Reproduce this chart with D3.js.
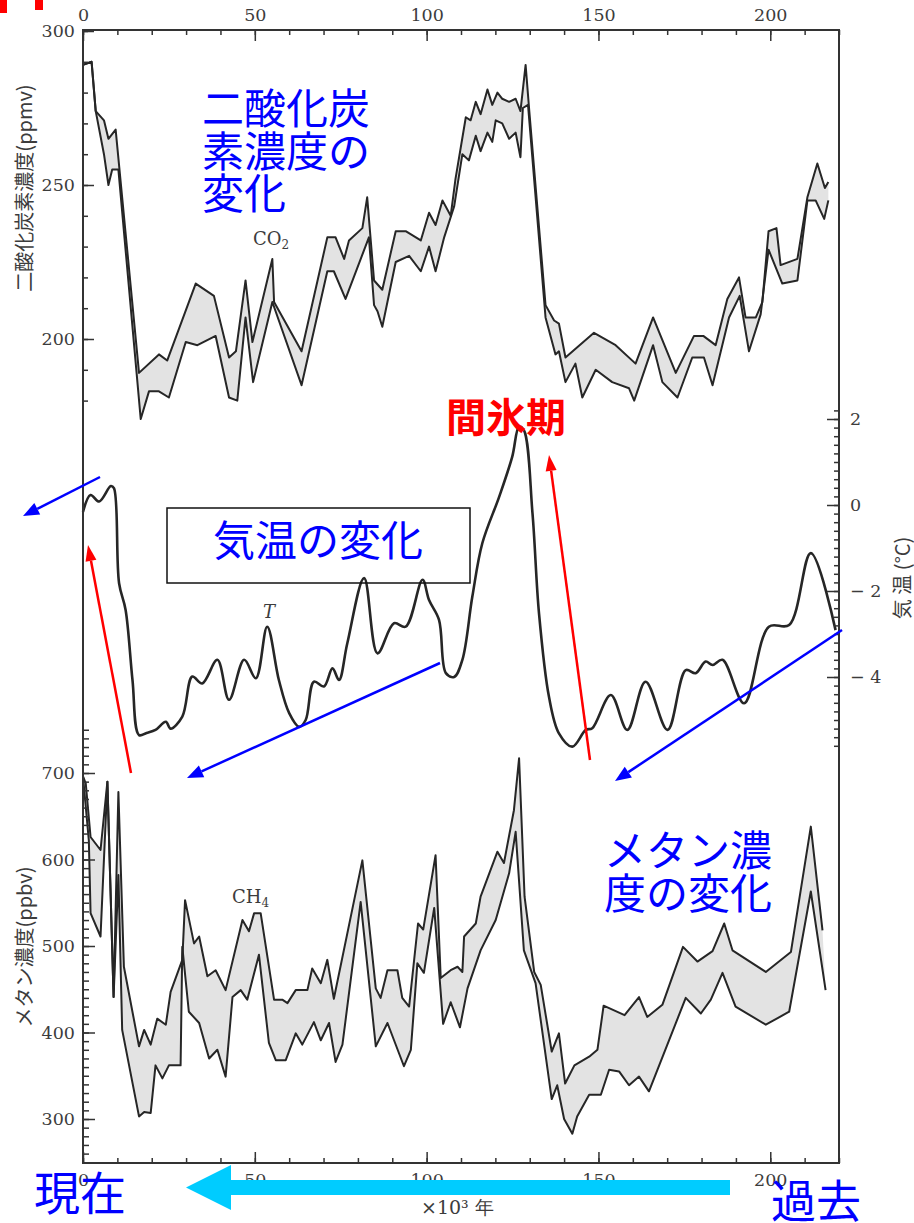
<!DOCTYPE html>
<html><head><meta charset="utf-8">
<script src="https://cdn.jsdelivr.net/npm/d3@7"></script>
<style>html,body{margin:0;padding:0;background:#fff}svg{display:block}</style>
</head><body>
<svg id="c" width="914" height="1223"></svg>
<script>
// ---------- data (kyr before present, value) ----------
const co2Upper = [[0,289],[2.5,290],[3.7,274],[6.1,271],[7.4,265],[9.5,268],[16.3,189],[22.1,195],[24.5,193],[32.8,218],[38.1,214],[42.5,194],[44.5,196],[47.3,219],[49.3,199],[55.1,226],[55.6,212],[63.6,196],[71.1,233],[73.5,233],[76,226],[77.4,232],[81.3,236],[82.7,246],[84.7,219],[87.1,216],[91,235],[93.9,235],[98.3,232],[100.7,241],[102.6,237],[104.6,245],[107,240],[108.4,252],[111.4,272],[112.8,271],[114.3,277],[115.7,273],[117.7,281],[119.1,276],[120.6,280],[122,278],[124,277],[125.9,278],[127.3,274],[128.8,289],[129.8,275],[134.6,211],[137.1,206],[138.5,205],[140.4,194],[148.7,202],[155,198],[160.8,192],[165.9,207],[172.5,189],[177.8,201],[180.5,201],[184.1,198],[187.5,213],[190.9,220],[192.8,207],[195.8,207],[197.7,212],[199.5,235],[201.8,236],[203,224],[207.9,226],[210.8,246],[213.7,257],[215.9,249],[216.9,251]];
const co2Lower = [[0,289],[2.5,290],[3.7,274],[6.1,260],[7.4,250],[8.5,255],[10.3,255],[16.8,174],[19.2,183],[22.1,183],[25,181],[29.9,199],[33.3,198],[38.6,201],[42.5,181],[44.9,180],[47.3,207],[49.5,186],[55.1,212],[63.6,185],[71.1,222],[73,222],[76.4,213],[83.2,233],[84.7,211],[85.7,209],[87.1,204],[91,225],[94.9,227],[98.3,222],[100.7,230],[102.6,222],[105.1,233],[108,243],[110.4,260],[112.3,258],[114.3,266],[115.7,261],[117.7,267],[119.1,264],[120.1,271],[122,270],[124,265],[125.9,267],[127.3,259],[128,275],[129.5,276],[134.6,207],[137.5,195],[138.5,196],[140.4,186],[143.3,192],[145.3,181],[149.2,190],[154,186],[158.9,184],[160.4,180],[165.9,198],[168.6,186],[173,181],[177.3,194],[180.7,194],[183.2,185],[188,207],[191.1,214],[193.8,196],[197.2,208],[199.5,229],[203.5,218],[207.9,219],[210.8,245],[213.2,245],[215.7,239],[216.9,245]];
const tempSeries = [[0,-0.16],[2.2,0.23],[4.7,0.08],[8.1,0.44],[9.0,0.39],[10.5,-1.82],[12.4,-2.44],[14.4,-4.07],[16.3,-5.35],[18.5,-5.3],[21.1,-5.23],[24.1,-5.04],[25.5,-5.2],[28.9,-4.92],[31.8,-3.99],[34.7,-4.15],[39.1,-3.6],[42.5,-4.53],[46.9,-3.6],[50.3,-4.03],[53.6,-2.83],[57,-4.07],[60,-4.84],[62.9,-5.16],[64.8,-5],[67.2,-4.11],[70.1,-4.22],[72.6,-3.8],[74.5,-4.07],[76.9,-3.22],[81.8,-1.7],[85.7,-3.45],[90.5,-2.75],[93.9,-2.83],[98.8,-1.74],[100.7,-2.21],[103.6,-2.67],[105.6,-3.91],[108,-4.0],[110.4,-3.6],[113.3,-2.13],[116.2,-0.89],[121.1,0.19],[124.9,1.12],[126.9,1.82],[128.3,1.74],[130.8,-0.19],[132.7,-2.52],[135.6,-4.46],[138.5,-5.31],[142.4,-5.62],[146.3,-5.23],[148.2,-5.19],[153.6,-4.42],[158.4,-5.23],[163.7,-4.11],[170.1,-5.23],[175.4,-3.84],[178.3,-3.91],[181.2,-3.64],[183.2,-3.72],[186.1,-3.6],[192.4,-4.61],[199.6,-2.83],[205.5,-2.79],[211.8,-1.12],[219,-2.91]];
const ch4Upper = [[0,696],[0.8,688],[2.2,626],[5.1,611],[7.1,690],[8.9,441],[10.3,678],[11.9,476],[16.3,384],[17.8,403],[19.7,386],[21.6,416],[24.1,409],[25.5,447],[28.9,484],[29.7,553],[32.3,503],[33.8,511],[36.2,465],[38.6,472],[41.5,449],[46.4,530],[48.3,517],[49.8,538],[51.7,538],[55.6,438],[58,438],[59.5,434],[61.9,449],[65.3,449],[66.7,474],[69.2,457],[71.1,484],[73,439],[81.3,599],[85.2,451],[86.6,440],[88.6,472],[91.5,472],[92.9,440],[94.9,430],[97.5,526],[99,519],[102.6,605],[104.1,463],[107,472],[109,476],[110.4,470],[110.9,511],[114.3,526],[115.7,557],[120.6,609],[122.5,596],[125.4,657],[126.9,717],[128.5,557],[131.3,470],[133.2,455],[136.4,378],[138.5,399],[140.3,341],[143,362],[147.3,372],[149.7,380],[151.5,431],[157.6,420],[161.8,441],[164.2,418],[168.6,432],[174.6,499],[178.8,482],[183.2,494],[186.6,526],[189,495],[198.7,470],[206,493],[211.8,638],[215.2,518]];
const ch4Lower = [[0,696],[1.7,622],[2.2,538],[5.1,511],[7.1,690],[8.9,441],[10.3,582],[11.4,403],[16.3,303],[17.8,308],[19.7,307],[21.1,362],[23.1,347],[25,362],[28.4,362],[28.9,499],[30.8,424],[33.8,411],[36.7,370],[39.1,380],[41.5,349],[43.5,441],[45.9,449],[47.8,438],[51.2,490],[54.1,388],[56.1,368],[59,368],[61.9,399],[63.8,386],[67.2,412],[69.2,391],[71.6,411],[73.5,366],[75.5,386],[80.8,551],[85.2,384],[88.6,411],[93.4,361],[95.4,380],[97.3,480],[99.2,469],[102.2,544],[104.8,410],[107,435],[109.7,406],[111.9,451],[115.7,495],[120.1,530],[124,584],[125.9,632],[128.3,495],[131.7,457],[136.4,323],[138,339],[140,300],[142.4,283],[143.8,303],[147.3,328],[150.7,328],[153.1,357],[156,355],[158.9,339],[161.8,349],[164.7,332],[175.4,440],[179.8,422],[182.7,438],[186.1,469],[189.9,430],[198.7,409],[205.5,424],[211.8,563],[216.1,449]];

// ---------- tick values ----------
const xMajorTicks = [0,50,100,150,200];
const xMinorTicks = d3.range(0,221,10);
const co2Ticks = [200,250,300];
const co2MinorTicks = d3.range(180,301,10);
const tempTicks = [-4,-2,0,2];
const tempMinorTicks = d3.range(-28,12).map(i=>+(i*0.2).toFixed(1));
const ch4Ticks = [300,400,500,600,700];
const ch4MinorTicks = d3.range(260,751,10);

// ---------- layout ----------
const L = {left:83, right:839, top:30, bottom:1163};
const svg = d3.select('#c');
const x = d3.scaleLinear().domain([0,220]).range([L.left,L.right]);
const yCO2 = d3.scaleLinear().domain([200,300]).range([339,31]);
const yT = d3.scaleLinear().domain([-4,2]).range([677,419]);
const yCH4 = d3.scaleLinear().domain([300,700]).range([1119,773]);

const serif = '"DejaVu Serif", "Liberation Serif", serif';
const jp = '"Noto Sans CJK JP", "Noto Sans", sans-serif';
const ink = '#262626', txt = '#3c3c3c';

svg.append('rect').attr('width',914).attr('height',1223).attr('fill','#fff');

// bands
function band(up, lo, ys){
  const ln = d3.line().x(d=>x(d[0])).y(d=>ys(d[1]));
  svg.append('path').attr('d', ln(up.concat(lo.slice().reverse()))+'Z')
     .attr('fill','#e3e3e3').attr('stroke','none');
  [up,lo].forEach(s=>svg.append('path').attr('d',ln(s)).attr('fill','none')
     .attr('stroke',ink).attr('stroke-width',2).attr('stroke-linejoin','round'));
}
band(co2Upper, co2Lower, yCO2);
band(ch4Upper, ch4Lower, yCH4);

// temperature
svg.append('path')
  .attr('d', d3.line().x(d=>x(d[0])).y(d=>yT(d[1])).curve(d3.curveCatmullRom.alpha(0.5))(tempSeries))
  .attr('fill','none').attr('stroke',ink).attr('stroke-width',2.6);

// frame
svg.append('rect').attr('x',L.left).attr('y',L.top).attr('width',L.right-L.left).attr('height',L.bottom-L.top)
  .attr('fill','none').attr('stroke','#333').attr('stroke-width',2);

function styleAxis(g){
  g.select('.domain').remove();
  g.selectAll('line').attr('stroke','#333').attr('stroke-width',1.5);
  g.selectAll('text').attr('fill',txt).style('font-family',serif).style('font-size','17.5px');
  return g;
}
// x axes
styleAxis(svg.append('g').attr('transform',`translate(0,${L.top})`).call(d3.axisTop(x).tickValues(xMinorTicks).tickSize(-5).tickFormat('')));
styleAxis(svg.append('g').attr('transform',`translate(0,${L.top})`).call(d3.axisTop(x).tickValues(xMajorTicks).tickSize(-11).tickPadding(9)));
styleAxis(svg.append('g').attr('transform',`translate(0,${L.bottom})`).call(d3.axisBottom(x).tickValues(xMinorTicks).tickSize(-5).tickFormat('')));
styleAxis(svg.append('g').attr('transform',`translate(0,${L.bottom})`).call(d3.axisBottom(x).tickValues(xMajorTicks).tickSize(-11).tickPadding(11)));
// left axes
styleAxis(svg.append('g').attr('transform',`translate(${L.left},0)`).call(d3.axisLeft(yCO2).tickValues(co2MinorTicks).tickSize(-5).tickFormat('')));
styleAxis(svg.append('g').attr('transform',`translate(${L.left},0)`).call(d3.axisLeft(yCO2).tickValues(co2Ticks).tickSize(-11).tickPadding(8).tickFormat(d3.format('d'))));
styleAxis(svg.append('g').attr('transform',`translate(${L.left},0)`).call(d3.axisLeft(yCH4).tickValues(ch4MinorTicks).tickSize(-6).tickFormat('')));
styleAxis(svg.append('g').attr('transform',`translate(${L.left},0)`).call(d3.axisLeft(yCH4).tickValues(ch4Ticks).tickSize(-12).tickPadding(8).tickFormat(d3.format('d'))));
// right temperature axis
styleAxis(svg.append('g').attr('transform',`translate(${L.right},0)`).call(d3.axisRight(yT).tickValues(tempMinorTicks).tickSize(-5).tickFormat('')));
styleAxis(svg.append('g').attr('transform',`translate(${L.right},0)`).call(d3.axisRight(yT).tickValues(tempTicks).tickSize(-12).tickPadding(11)
  .tickFormat(d=> d<0 ? '\u2212 '+(-d) : String(d))));

// axis titles
function rotText(t, cx, cy, size){
  svg.append('text').attr('transform',`translate(${cx},${cy}) rotate(-90)`).attr('text-anchor','middle')
    .attr('dominant-baseline','central').attr('fill',txt).style('font-family',jp).style('font-size',size+'px').text(t);
}
rotText('二酸化炭素濃度(ppmv)', 23, 188, 20);
rotText('メタン濃度(ppbv)', 23, 947, 20);
rotText('気 温 (°C)', 901, 578, 20);

svg.append('text').attr('x',421).attr('y',1214).attr('fill',txt).style('font-family',serif).style('font-size','19px').text('×10³ 年');

// series labels
const co2Lab = svg.append('text').attr('x',253).attr('y',245).attr('fill',txt).style('font-family',serif).style('font-size','18px');
co2Lab.append('tspan').text('CO');
co2Lab.append('tspan').attr('dy',4).style('font-size','12px').text('2');
const ch4Lab = svg.append('text').attr('x',232).attr('y',903).attr('fill',txt).style('font-family',serif).style('font-size','18px');
ch4Lab.append('tspan').text('CH');
ch4Lab.append('tspan').attr('dy',4).style('font-size','12px').text('4');
svg.append('text').attr('x',263).attr('y',618).attr('fill',txt).style('font-family',serif).style('font-style','italic').style('font-size','18px').text('T');

// ---------- annotations ----------
const blue = '#0000ff', red = '#ff0000', cyan = '#00ccff';
function jpBlock(lines, xx, yy, lh, size, color, bold){
  const t = svg.append('text').attr('fill',color).style('font-family',jp)
    .style('font-size',size+'px').style('font-weight',bold?'700':'400');
  lines.forEach((s,i)=>t.append('tspan').attr('x',xx).attr('y',yy+i*lh).text(s));
}
jpBlock(['二酸化炭','素濃度の','変化'], 202, 124, 42.5, 42, blue);
svg.append('rect').attr('x',167).attr('y',508).attr('width',303).attr('height',75).attr('fill','none').attr('stroke','#111').attr('stroke-width',1.5);
jpBlock(['気温の変化'], 213, 556, 0, 42, blue);
jpBlock(['間氷期'], 446, 432, 0, 40, red, true);
jpBlock(['メタン濃','度の変化'], 604, 866, 43, 42, blue);

// red fragment top-left
svg.append('rect').attr('x',0).attr('y',0).attr('width',7).attr('height',13).attr('fill',red);
svg.append('rect').attr('x',35).attr('y',0).attr('width',8).attr('height',10).attr('fill',red);

function arrow(x1,y1,x2,y2,color,w,hl,hw){
  const dx=x2-x1, dy=y2-y1, len=Math.hypot(dx,dy), ux=dx/len, uy=dy/len;
  const bx=x2-ux*hl, by=y2-uy*hl, px=-uy, py=ux;
  svg.append('line').attr('x1',x1).attr('y1',y1).attr('x2',bx).attr('y2',by).attr('stroke',color).attr('stroke-width',w);
  svg.append('path').attr('d',`M${x2},${y2}L${bx+px*hw/2},${by+py*hw/2}L${bx-px*hw/2},${by-py*hw/2}Z`).attr('fill',color);
}
arrow(100,477,23,516,blue,2.5,16,13);
arrow(440,663,187,778,blue,2.5,16,13);
arrow(842,630,615,781,blue,2.5,16,13);
arrow(131,773,88,545,red,2.5,16,11);
arrow(590,760,549,455,red,2.5,16,11);

// big cyan arrow (time direction)
svg.append('rect').attr('x',228).attr('y',1180).attr('width',502).attr('height',15).attr('fill',cyan);
svg.append('path').attr('d','M186,1187.5L231,1165L231,1210Z').attr('fill',cyan);
jpBlock(['現在'], 34, 1210, 0, 46, blue);
jpBlock(['過去'], 771, 1218, 0, 45, blue);
</script>
</body></html>
